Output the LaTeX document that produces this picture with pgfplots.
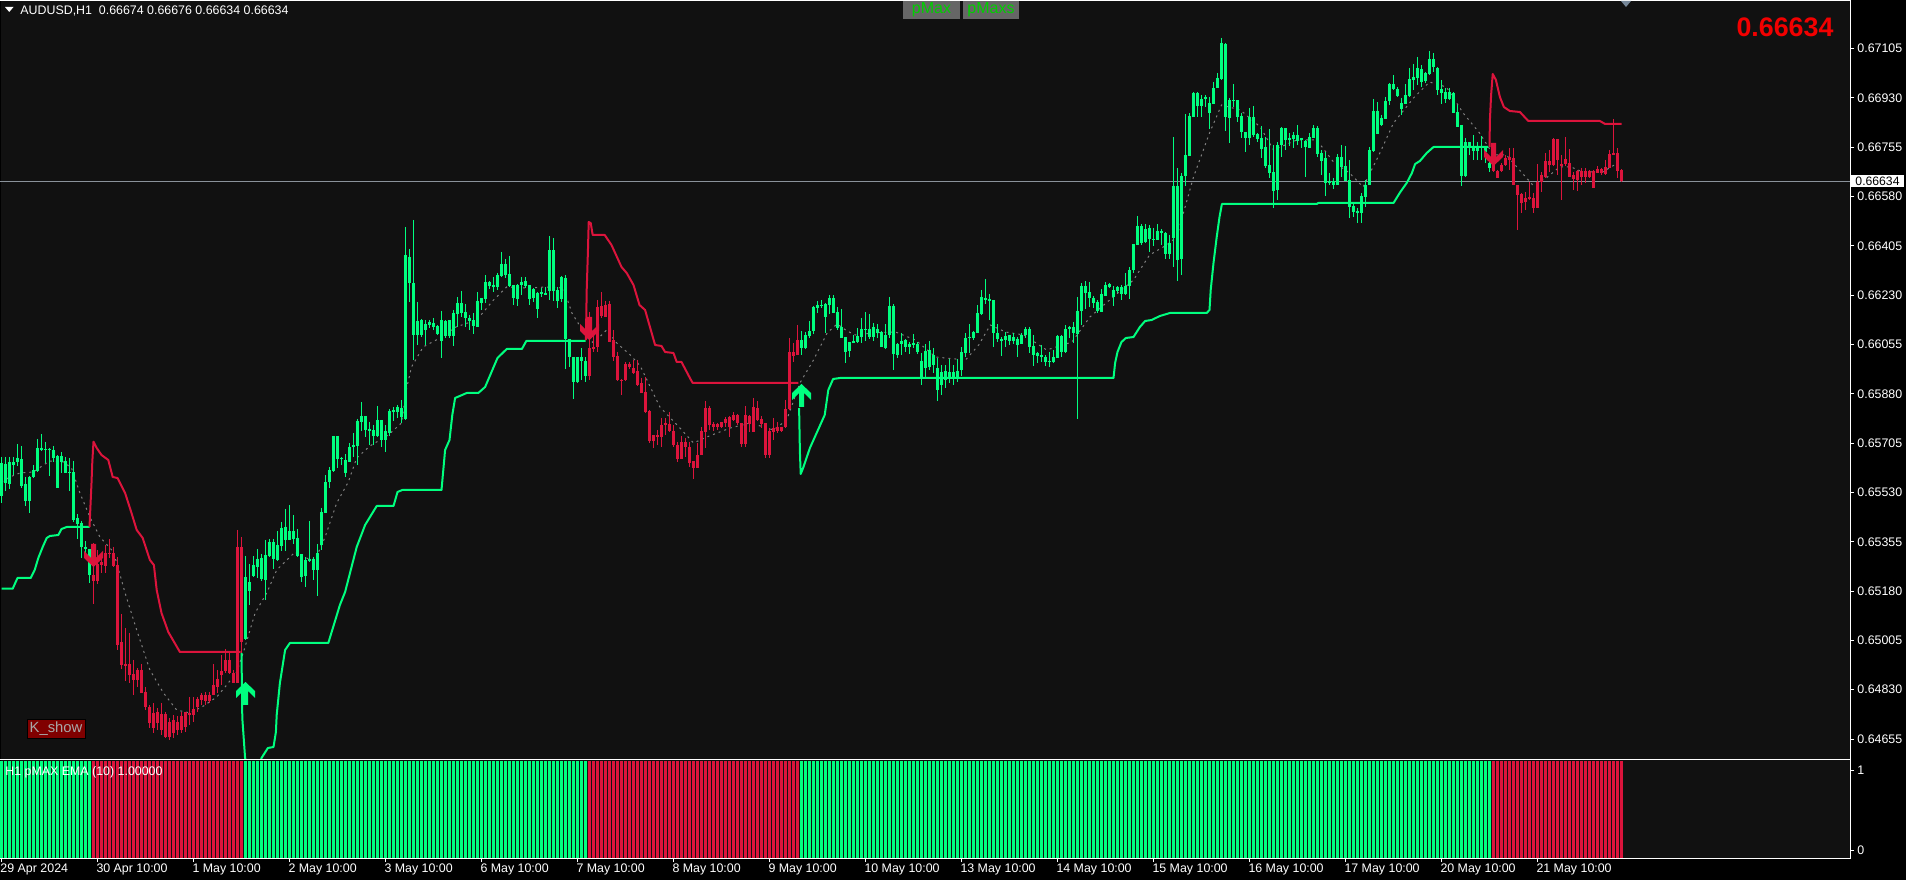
\documentclass[border=0pt]{standalone}
\usepackage{fontspec}
\setmainfont{Liberation Sans}
\usepackage{pgfplots}
\usepackage{pgfplotstable}
\pgfplotsset{compat=1.18}

\definecolor{chartbg}{HTML}{111111}
\definecolor{upgreen}{HTML}{00FF7F}
\definecolor{downred}{HTML}{DC143C}
\definecolor{bidline}{HTML}{8A929A}
\definecolor{emagrey}{HTML}{808080}
\definecolor{slategray}{HTML}{778899}
\definecolor{btngrey}{HTML}{666666}
\definecolor{btngreen}{HTML}{00D000}
\definecolor{btnred}{HTML}{800000}
\definecolor{btntext}{HTML}{A8A8A8}

% price of a row measured on the screenshot, from the two ends of the scale
\newcommand{\price}[1]{0.67105-(#1-48.6)*0.000035486}
\newcommand{\pxstep}{0.000035486}

\pgfdeclareplotmark{sigdown}{%
  \pgfpathmoveto{\pgfpoint{0pt}{0pt}}%
  \pgfpathlineto{\pgfpoint{4.75pt}{4.5pt}}\pgfpathlineto{\pgfpoint{4.75pt}{8pt}}%
  \pgfpathlineto{\pgfpoint{1.25pt}{4.5pt}}\pgfpathlineto{\pgfpoint{1.25pt}{11.5pt}}%
  \pgfpathlineto{\pgfpoint{-1.25pt}{11.5pt}}\pgfpathlineto{\pgfpoint{-1.25pt}{4.5pt}}%
  \pgfpathlineto{\pgfpoint{-4.75pt}{8pt}}\pgfpathlineto{\pgfpoint{-4.75pt}{4.5pt}}%
  \pgfpathclose\pgfusepathqfill}
\pgfdeclareplotmark{sigup}{%
  \pgfpathmoveto{\pgfpoint{0pt}{0pt}}%
  \pgfpathlineto{\pgfpoint{4.75pt}{-4.5pt}}\pgfpathlineto{\pgfpoint{4.75pt}{-8pt}}%
  \pgfpathlineto{\pgfpoint{1.25pt}{-4.5pt}}\pgfpathlineto{\pgfpoint{1.25pt}{-11.5pt}}%
  \pgfpathlineto{\pgfpoint{-1.25pt}{-11.5pt}}\pgfpathlineto{\pgfpoint{-1.25pt}{-4.5pt}}%
  \pgfpathlineto{\pgfpoint{-4.75pt}{-8pt}}\pgfpathlineto{\pgfpoint{-4.75pt}{-4.5pt}}%
  \pgfpathclose\pgfusepathqfill}

% bars: i, high, body top, body bottom, low (screen rows)
\pgfplotstableread{
i hi top bot lo
0 457 463 496 503
1 457 464 483 491
2 457 462 484 489
3 457 462 465 475
4 444 458 462 466
5 446 459 486 488
6 477 484 501 506
7 476 477 501 513
8 465 470 477 478
9 439 448 471 472
10 434 448 450 451
11 442 449 450 463
12 448 449 450 476
13 446 450 458 462
14 455 456 488 488
15 452 456 462 473
16 457 461 473 473
17 458 472 473 491
18 461 472 520 522
19 514 518 524 539
20 521 523 547 558
21 541 547 549 557
22 549 549 575 583
61 556 577 639 640
62 564 582 591 605
63 556 565 576 577
64 549 559 567 578
65 554 558 579 581
66 540 555 580 600
67 539 542 556 557
68 539 542 559 569
69 531 545 560 561
70 522 528 546 551
71 509 527 540 551
72 505 531 540 540
73 515 531 539 544
74 529 538 556 557
75 554 554 577 582
76 557 560 576 587
77 521 559 561 562
78 557 559 570 580
79 544 553 570 596
80 508 512 545 550
81 475 482 513 513
82 467 470 482 488
83 436 436 471 472
84 436 436 459 468
85 457 458 459 465
86 454 460 473 477
87 443 447 462 462
88 433 445 447 457
89 419 421 446 465
90 402 416 422 431
91 416 416 430 437
92 422 429 431 445
93 425 430 436 445
94 406 420 436 437
95 420 420 440 447
96 425 431 440 452
97 409 411 433 436
98 407 410 412 421
99 405 407 412 418
100 400 408 417 423
101 227 255 419 420
102 249 257 283 302
103 220 283 335 360
104 302 321 335 345
105 319 320 335 337
106 320 324 330 345
107 320 322 325 328
108 318 323 327 330
109 325 326 334 335
110 311 320 341 358
111 320 321 336 338
112 320 320 336 338
113 310 313 336 346
114 297 303 314 327
115 291 303 313 317
116 304 312 318 327
117 315 318 321 330
118 313 320 326 334
119 292 301 327 327
120 298 298 303 310
121 275 282 299 303
122 281 282 286 289
123 277 285 287 292
124 273 275 287 290
125 252 264 276 277
126 259 264 275 278
127 256 274 286 287
128 285 285 298 305
129 284 285 299 306
130 277 282 285 295
131 277 281 286 288
132 285 285 299 305
133 288 289 298 302
134 292 293 309 318
135 288 292 294 297
136 287 293 295 295
137 236 250 291 300
138 238 250 291 301
139 287 290 301 308
140 276 277 299 302
141 275 278 339 369
142 339 339 357 367
143 357 357 382 399
144 357 357 382 383
145 348 357 361 380
146 357 361 376 382
200 331 340 348 355
201 332 335 348 349
202 321 331 336 338
203 306 307 331 334
204 301 305 308 313
205 300 305 306 308
206 303 304 317 333
207 295 298 305 314
208 295 298 313 313
209 307 312 328 330
210 309 327 338 338
211 337 337 352 363
212 342 342 351 357
213 335 341 343 343
214 328 336 342 343
215 318 329 337 343
216 312 329 330 341
217 314 329 337 339
218 323 327 337 341
219 324 329 333 338
220 331 332 347 347
221 324 335 348 349
222 297 306 335 338
223 304 306 354 370
224 343 344 355 358
225 333 341 344 355
226 339 340 347 352
227 342 344 347 354
228 334 343 345 348
229 342 344 352 354
230 353 361 378 385
231 344 351 368 377
232 341 350 367 370
233 348 355 365 373
234 358 368 390 401
235 365 372 385 395
236 365 371 380 388
237 359 372 378 383
238 365 372 378 385
239 359 371 377 382
240 347 352 370 376
241 333 338 353 357
242 324 337 338 353
243 331 332 338 340
244 305 313 333 333
245 290 297 314 315
246 279 298 300 304
247 294 299 301 320
248 300 300 333 347
249 324 333 339 342
250 337 339 341 356
251 332 336 340 347
252 335 335 341 345
253 333 337 341 344
254 337 339 345 357
255 333 335 344 344
256 327 329 335 338
257 327 329 347 353
258 335 346 355 366
259 352 353 356 363
260 345 355 357 362
261 355 357 362 366
262 352 361 362 367
263 350 357 362 363
264 335 336 358 358
265 335 336 352 357
266 325 329 352 353
267 326 327 329 338
268 322 327 333 343
269 297 311 334 419
270 283 286 311 325
271 281 286 293 309
272 282 292 298 307
273 296 298 303 308
274 300 302 311 313
275 289 294 312 312
276 282 285 296 296
277 283 284 287 288
278 286 290 297 306
279 286 287 291 293
280 285 287 294 300
281 273 286 294 295
282 267 270 286 299
283 244 244 270 273
284 216 226 245 245
285 224 226 243 245
286 224 229 242 243
287 225 228 239 252
288 228 239 240 246
289 224 231 240 240
290 229 231 233 245
291 232 233 254 259
292 235 243 254 259
293 137 186 238 267
294 168 186 260 281
295 173 176 259 275
296 114 155 176 186
297 113 116 156 156
298 92 93 117 117
299 92 93 106 117
300 95 99 106 117
301 95 97 99 107
302 97 103 113 129
303 82 88 104 104
304 73 78 88 88
305 38 43 79 80
306 43 44 117 131
307 98 100 118 143
308 84 100 101 107
309 100 100 117 122
310 113 116 132 138
311 132 132 138 152
312 108 117 138 145
313 106 117 135 137
314 133 134 139 142
315 126 138 149 158
316 137 147 166 168
317 129 165 173 178
318 145 172 191 208
319 142 145 190 200
320 127 128 145 157
321 128 128 140 150
322 133 138 140 146
323 132 135 139 148
324 125 135 141 145
325 138 138 140 148
326 140 141 147 177
327 133 137 148 148
328 125 128 138 138
329 126 128 154 157
330 150 153 161 175
331 152 158 183 196
332 173 181 183 185
333 178 181 185 189
334 154 157 185 185
335 145 157 167 177
336 146 166 181 181
337 160 180 207 218
338 203 206 212 217
339 208 211 213 223
340 193 196 213 223
341 180 185 197 207
342 147 150 185 185
343 99 111 151 152
344 102 111 134 134
345 115 118 125 126
346 97 101 119 119
347 83 84 101 105
348 75 84 89 90
349 87 89 96 97
350 98 103 109 115
351 84 95 104 104
352 68 79 96 97
353 64 77 80 90
354 57 68 78 85
355 65 69 82 87
356 72 73 81 83
357 51 59 74 75
358 53 59 67 72
359 67 68 90 95
360 80 89 93 104
361 88 92 99 103
362 88 92 99 100
363 92 93 113 113
364 105 112 127 127
365 125 125 176 186
366 138 142 176 177
367 142 142 146 155
368 135 146 151 160
369 142 146 151 160
370 136 146 148 160
371 147 147 152 163
372 158 163 168 172
}\greenbars

\pgfplotstableread{
i hi top bot lo
23 543 575 581 604
24 550 564 581 584
25 557 562 565 573
26 545 553 566 573
27 539 553 554 558
28 547 553 566 567
29 557 565 645 650
30 614 642 665 669
31 628 664 666 681
32 633 664 675 683
33 660 674 680 695
34 668 670 680 687
35 664 670 693 693
36 687 692 707 710
37 705 707 723 728
38 703 713 728 733
39 708 712 723 730
40 703 714 730 735
41 712 714 737 738
42 718 722 737 740
43 715 720 733 738
44 716 722 730 735
45 712 716 730 733
46 712 712 727 732
47 697 713 715 725
48 697 709 715 722
49 697 699 707 712
50 693 695 700 705
51 692 695 701 705
52 692 695 701 703
53 664 685 695 695
54 670 679 687 693
55 655 671 675 685
56 649 660 671 673
57 653 660 673 674
58 670 673 683 683
59 530 547 683 683
60 537 547 642 653
147 312 348 376 380
148 333 347 349 352
149 300 307 347 352
150 292 306 316 318
151 301 305 317 317
152 301 304 342 342
153 330 340 357 361
154 352 356 380 381
155 379 380 381 395
156 362 364 380 381
157 362 364 367 369
158 360 368 373 374
159 360 371 385 386
160 378 383 393 393
161 377 392 412 413
162 410 411 441 443
163 435 435 441 448
164 430 435 437 445
165 418 425 437 447
166 418 423 425 435
167 412 424 431 432
168 425 431 445 447
169 442 445 459 462
170 436 442 459 459
171 438 442 447 457
172 442 447 463 467
173 461 461 468 479
174 443 455 468 468
175 427 431 455 455
176 401 408 432 448
177 406 408 425 430
178 422 424 427 431
179 423 424 427 430
180 422 422 427 428
181 417 419 423 427
182 416 417 427 437
183 412 415 420 421
184 414 415 423 425
185 423 423 444 447
186 406 415 444 447
187 415 416 424 432
188 398 407 432 432
189 401 408 420 421
190 416 419 424 428
191 423 423 455 458
192 428 431 455 458
193 418 428 432 440
194 422 427 431 433
195 427 427 431 432
196 400 409 427 428
197 338 352 409 410
198 343 352 356 362
199 325 340 355 355
373 143 164 171 172
374 170 171 178 178
375 163 165 171 172
376 155 158 165 166
377 148 157 160 170
378 148 158 185 185
379 185 185 195 230
380 193 194 203 213
381 192 198 202 210
382 182 197 199 200
383 193 198 208 213
384 164 182 208 208
385 172 175 182 192
386 153 161 177 178
387 150 161 165 172
388 138 139 165 166
389 139 139 160 175
390 155 164 166 200
391 137 159 164 166
392 149 163 177 177
393 172 175 179 190
394 170 171 180 191
395 168 171 177 185
396 168 171 177 183
397 170 171 177 178
398 170 171 188 188
399 166 169 173 173
400 168 169 173 175
401 160 167 174 175
402 150 154 168 168
403 119 153 155 155
404 148 153 171 178
405 169 170 181 182
}\redbars

% pMax line, one table for each trend leg
\pgfplotstableread{
i p
0 588.7
2.8 588.7
4 578
7.3 578
8.3 570
9.2 558
10.3 547
11.3 538
12.1 536
14.2 535
15 529
16.3 527
22 527
}\gOne
\pgfplotstableread{
i p
22 527
22.5 483
22.7 462
23 441.7
23.8 448
25 455
26.7 460
27.8 477
29 478
30.9 493
32.5 513
33.8 530
35.3 538
37.1 560
38.1 565
38.8 590
40 613
41.7 632
44.6 652
59.8 652
}\rOne
\pgfplotstableread{
i p
60 653
60.2 718
60.9 758
63 790
65 758
66.6 748
68 747
68.6 732
68.8 715
69.6 683
70.9 650
72.1 643
81.7 643
84.6 605
85.9 592
88.8 547
90.9 525
93.8 506
98 506
99 492
100.2 490
110 490
110.9 450
112 440
112.7 415
113.4 398
116.3 393
119.2 393
120.9 387
124 358
126.3 349
130.1 349
131.2 341
146 341
}\gTwo
\pgfplotstableread{
i p
146.1 340
146.3 290
146.6 252
146.8 222
147.3 223
147.8 235
150.8 235
152.5 245
155 267
156.3 273
158 285
159.5 305
160.9 310
163.4 345
165 346
165.9 352
168 353
168.8 362
170 362
172.1 378
172.8 383
199.2 383
}\rTwo
\pgfplotstableread{
i p
199.4 408
199.6 452
199.8 474
200.4 468
202.1 448
205.8 415
206.7 390
207.9 379
209.6 378
278 378
278.4 363
279 352
280 342
281.1 338
283 337
284.6 327
285.9 321
287.5 320
289.6 316
292.1 313
301.3 313
302 310
302.3 290
303 263
303.8 237
304.5 217
305.1 204
328.8 204
329.2 203
348 203
349.7 192
351.3 183
352.6 173
353.4 164
354.6 161
356.3 153
358 147
371.7 147
}\gThree
\pgfplotstableread{
i p
372 147
372.1 120
372.4 95
372.8 74
373.6 80
374.6 97
375.6 107
377.1 111
379.6 112
381.7 121
399.6 121
400.9 124
405 124
}\rThree

% dotted moving average
\pgfplotstableread{
i p
0 482
2.1 477
4.6 473
8 472
10.5 465
12.1 461
15.5 462
17.5 468
19.6 493
22.1 517
24.6 537
28 552
30 580
30.9 593
33.8 630
37.1 670
40.5 693
43.8 710
47.1 713
50.5 706
53.8 697
56.3 685
58.8 672
60.5 652
63.4 613
66.3 593
68.8 570
73.4 552
75 557
78.4 560
80.9 537
83.8 503
86.7 482
88.8 458
92.1 446
96.7 435
100 423
101.3 388
102.5 367
105.4 347
109.6 338
113.6 327
118.8 320
123 300
126.3 287
131.3 288
136.3 287
140.5 288
142.6 313
146.3 337
148 343
151.3 330
153.8 343
157.2 355
159.7 366
164.6 407
169.6 428
173 443
176.3 437
182.2 428
187.2 423
193 430
196.3 420
199.6 383
203 360
206.4 333
208.9 324
211.4 331
213.5 335
217.7 333
223.5 332
228.5 340
233.5 357
241 360
244.3 345
247.2 325
251 332
255.6 335
261.3 350
267.6 342
272.1 317
277.9 297
283 280
287 255
291.3 245
293.8 237
298 177
302 133
305 105
309.7 110
314.7 127
318 150
323.8 140
328.8 140
333 162
337 173
340.4 187
344.6 153
348 123
353 98
357 82
361.2 87
365.4 113
369.5 133
373 155
376.2 155
379.5 170
382.8 185
386.2 178
389.5 167
392.4 167
395.3 172
400.3 172
403.2 165
405 170
}\ema

\pgfplotstableread{
i p
23 567
147 340
373 166
}\sellsignals
\pgfplotstableread{
i p
61 682
200 384
}\buysignals

% one bar: thin wick, thick body, each as an error bar hanging from its top
\newcommand{\bars}[2]{%
  \addplot[draw=none, error bars/.cd, y dir=minus, y explicit, error mark=none,
    error bar style={draw=#2, line width=0.5pt}]
    table[x=i, y expr=\price{\thisrow{hi}},
      y error minus expr=(\thisrow{lo}-\thisrow{hi})*\pxstep] {#1};
  \addplot[draw=none, error bars/.cd, y dir=minus, y explicit, error mark=none,
    error bar style={draw=#2, line width=1.5pt}]
    table[x=i, y expr=\price{\thisrow{top}},
      y error minus expr=(\thisrow{bot}-\thisrow{top})*\pxstep] {#1};
}
\newcommand{\pmaxline}[2]{%
  \addplot[#2, line width=1pt, no marks, line join=round]
    table[x=i, y expr=\price{\thisrow{p}}] {#1};
}

\pgfplotsset{mt4/.style={
  scale only axis, width=925pt,
  xmin=-0.375, xmax=462.125,
  axis line style={draw=none},
  tick style={white, line width=0.5pt},
  tick align=outside, major tick length=2pt,
  ytick pos=right, yticklabel pos=right,
  /pgf/number format/assume math mode=true,
  ticklabel style={font=\fontsize{6.2}{7}\selectfont, text=white, inner sep=1.5pt},
}}

\begin{document}
\begin{tikzpicture}
\useasboundingbox (0,0) rectangle (953pt,440pt);
\fill[black] (0,0) rectangle (953pt,440pt);
\fill[chartbg] (0.5pt,11pt) rectangle (925pt,440pt);

\begin{axis}[mt4, name=main, at={(0pt,61pt)}, anchor=south west, height=378.5pt,
    ymin=0.645876, ymax=0.672739, xtick=\empty,
    ytick={0.64655,0.6483,0.65005,0.6518,0.65355,0.6553,0.65705,0.6588,0.66055,0.6623,0.66405,0.6658,0.66755,0.6693,0.67105},
    scaled y ticks=false,
    yticklabel style={/pgf/number format/fixed, /pgf/number format/fixed zerofill, /pgf/number format/precision=5}]
  \addplot[bidline, line width=0.5pt, no marks] coordinates {(-1,0.66634) (463,0.66634)};
  \addplot[emagrey, line width=0.5pt, no marks, dash pattern=on 1pt off 2pt]
    table[x=i, y expr=\price{\thisrow{p}}] {\ema};
  \bars{\greenbars}{upgreen}
  \bars{\redbars}{downred}
  \pmaxline{\gOne}{upgreen}
  \pmaxline{\rOne}{downred}
  \pmaxline{\gTwo}{upgreen}
  \pmaxline{\rTwo}{downred}
  \pmaxline{\gThree}{upgreen}
  \pmaxline{\rThree}{downred}
  \addplot[only marks, mark=sigdown, downred, mark options={fill=downred, draw=none}]
    table[x=i, y expr=\price{\thisrow{p}}] {\sellsignals};
  \addplot[only marks, mark=sigup, upgreen, mark options={fill=upgreen, draw=none}]
    table[x=i, y expr=\price{\thisrow{p}}] {\buysignals};
\end{axis}

\begin{axis}[mt4, name=sub, at={(0pt,11pt)}, anchor=south west, height=48.5pt,
    ymin=-0.1, ymax=1.1125, ytick={0,1},
    xtick={0,24,...,384}, xtick pos=bottom,
    xticklabels={29 Apr 2024,30 Apr 10:00,1 May 10:00,2 May 10:00,3 May 10:00,6 May 10:00,7 May 10:00,8 May 10:00,9 May 10:00,10 May 10:00,13 May 10:00,14 May 10:00,15 May 10:00,16 May 10:00,17 May 10:00,20 May 10:00,21 May 10:00},
    x tick label style={anchor=north west, inner sep=0pt, xshift=-0.7pt, yshift=-0.7pt}]
  % state 1 fills the pane: the histogram is as tall as the sub window
  \addplot[ycomb, upgreen, line width=1.5pt, no marks] table[x=i, y expr=1.2] {\greenbars};
  \addplot[ycomb, upgreen, line width=1.5pt, no marks] table[x=i, y expr=-0.2] {\greenbars};
  \addplot[ycomb, downred, line width=1.5pt, no marks] table[x=i, y expr=1.2] {\redbars};
  \addplot[ycomb, downred, line width=1.5pt, no marks] table[x=i, y expr=-0.2] {\redbars};
\end{axis}

% window furniture, in screenshot pixels
\begin{scope}[shift={(0,440pt)}, x=0.5pt, y=-0.5pt]
  \draw[white, line width=0.5pt] (0,0.5) -- (1850.5,0.5);
  \draw[white, line width=0.5pt] (1850.5,0) -- (1850.5,858.5) -- (0,858.5);
  \draw[white, line width=0.5pt] (0,759.5) -- (1850.5,759.5);
  \fill[white] (5,7) -- (13.5,7) -- (9.25,12) -- cycle;
  \node[anchor=west, inner sep=0pt, text=white, font=\fontsize{6.2}{7}\selectfont] at (20,10.5)
    {AUDUSD,H1\ \ 0.66674 0.66676 0.66634 0.66634};
  \node[fill=btngrey, text=btngreen, minimum width=28.5pt, minimum height=9pt, inner sep=0pt,
    font=\fontsize{8}{9}\selectfont] at (931.5,10) {pMax};
  \node[fill=btngrey, text=btngreen, minimum width=28pt, minimum height=9pt, inner sep=0pt,
    font=\fontsize{8}{9}\selectfont] at (991,10) {pMaxs};
  \fill[slategray] (1621,1) -- (1631,1) -- (1626,7) -- cycle;
  \node[text=red!95!black, inner sep=0pt, font=\fontsize{13.4}{15}\bfseries\selectfont] at (1785,27) {0.66634};
  \node[fill=white, text=black, inner sep=0pt, minimum width=26.5pt, minimum height=6pt,
    font=\fontsize{6.1}{7}\selectfont] at (1877.5,181) {0.66634};
  \node[fill=btnred, draw=black, line width=0.3pt, text=btntext, minimum width=29pt, minimum height=9.5pt,
    inner sep=0pt, font=\fontsize{7.4}{8}\selectfont] at (56,728.5) {K\_show};
  \node[anchor=west, inner sep=0pt, text=white, font=\fontsize{6.2}{7}\selectfont] at (5,772)
    {H1 pMAX EMA (10) 1.00000};
\end{scope}
\end{tikzpicture}
\end{document}
